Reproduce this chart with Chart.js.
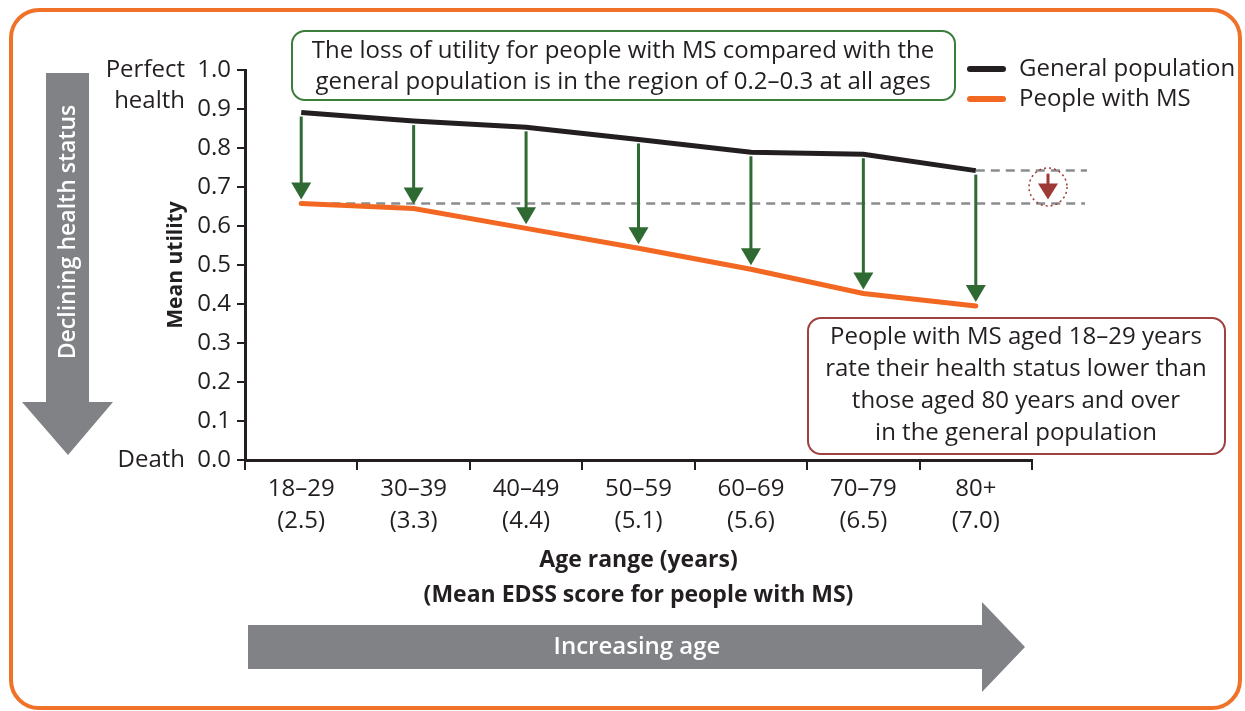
<!DOCTYPE html>
<html>
<head>
<meta charset="utf-8">
<script src="https://cdn.jsdelivr.net/npm/chart.js@4.4.1/dist/chart.umd.min.js"></script>
<style>
  body { margin: 0; background: #fff; }
  #wrap { width: 1245px; height: 711px; position: relative; }
</style>
</head>
<body>
<div id="wrap"><canvas id="utilityChart"></canvas></div>
<script>
const ageRanges = ["18–29", "30–39", "40–49", "50–59", "60–69", "70–79", "80+"];
const meanEdss = ["(2.5)", "(3.3)", "(4.4)", "(5.1)", "(5.6)", "(6.5)", "(7.0)"];
const generalPopulation = [0.891, 0.869, 0.853, 0.822, 0.789, 0.784, 0.742];
const peopleWithMS = [0.658, 0.645, 0.594, 0.543, 0.489, 0.427, 0.395];

const FONT = "'Open Sans', sans-serif";
const INK = "#231f20";
const ORANGE = "#f26722";
const GREEN = "#2f6a33";
const RED = "#9e3a36";
const GREY = "#808285";

function roundPath(ctx, x, y, w, h, r) {
  ctx.beginPath();
  ctx.moveTo(x + r, y);
  ctx.lineTo(x + w - r, y);
  ctx.arcTo(x + w, y, x + w, y + r, r);
  ctx.lineTo(x + w, y + h - r);
  ctx.arcTo(x + w, y + h, x + w - r, y + h, r);
  ctx.lineTo(x + r, y + h);
  ctx.arcTo(x, y + h, x, y + h - r, r);
  ctx.lineTo(x, y + r);
  ctx.arcTo(x, y, x + r, y, r);
  ctx.closePath();
}

function textLines(ctx, lines, cx, y0, step) {
  lines.forEach((t, i) => ctx.fillText(t, cx, y0 + i * step));
}

function downArrow(ctx, x, top, tip, color, headW, headH, shaftW) {
  ctx.strokeStyle = color;
  ctx.fillStyle = color;
  ctx.lineWidth = shaftW;
  ctx.beginPath();
  ctx.moveTo(x, top);
  ctx.lineTo(x, tip - headH + 2);
  ctx.stroke();
  ctx.beginPath();
  ctx.moveTo(x - headW / 2, tip - headH);
  ctx.lineTo(x + headW / 2, tip - headH);
  ctx.lineTo(x, tip);
  ctx.closePath();
  ctx.fill();
}

const extras = {
  id: "extras",
  beforeDraw(chart) {
    const ctx = chart.ctx;
    ctx.save();
    ctx.fillStyle = "#fff";
    ctx.fillRect(0, 0, chart.width, chart.height);
    ctx.restore();
  },
  beforeDatasetsDraw(chart) {
    const { ctx, chartArea: area, scales: { x, y } } = chart;
    const last = generalPopulation.length - 1;
    const upper = y.getPixelForValue(generalPopulation[last]);
    const lower = y.getPixelForValue(peopleWithMS[0]);
    ctx.save();
    ctx.strokeStyle = "#8a8c8e";
    ctx.lineWidth = 2.5;
    ctx.setLineDash([9, 6]);
    ctx.beginPath();
    ctx.moveTo(x.getPixelForValue(last), upper);
    ctx.lineTo(area.right + 55, upper);
    ctx.moveTo(x.getPixelForValue(0), lower);
    ctx.lineTo(area.right + 53, lower);
    ctx.stroke();
    ctx.restore();
  },
  afterDatasetsDraw(chart) {
    const { ctx, chartArea: area, scales: { x, y } } = chart;
    ctx.save();
    // loss of utility arrows
    generalPopulation.forEach((g, i) => {
      const px = x.getPixelForValue(i);
      downArrow(ctx, px, y.getPixelForValue(g) + 4, y.getPixelForValue(peopleWithMS[i]) - 4, GREEN, 20, 17, 3);
    });
    // 80+ general vs 18-29 MS marker
    const last = generalPopulation.length - 1;
    const upper = y.getPixelForValue(generalPopulation[last]);
    const lower = y.getPixelForValue(peopleWithMS[0]);
    const cx = area.right + 16, cy = (upper + lower) / 2;
    ctx.strokeStyle = RED;
    ctx.lineWidth = 1.5;
    ctx.setLineDash([2, 3]);
    ctx.beginPath();
    ctx.arc(cx, cy, 19, 0, Math.PI * 2);
    ctx.stroke();
    ctx.setLineDash([]);
    downArrow(ctx, cx, upper + 3, lower - 4, RED, 20, 16, 3);
    ctx.restore();
  },
  afterDraw(chart) {
    const { ctx, scales: { y } } = chart;
    ctx.save();

    // end labels on the y axis
    ctx.fillStyle = INK;
    ctx.font = "24px " + FONT;
    ctx.textAlign = "right";
    ctx.textBaseline = "middle";
    const yTop = y.getPixelForValue(1);
    ctx.fillText("Perfect", 185, yTop);
    ctx.fillText("health", 185, yTop + 31);
    ctx.fillText("Death", 185, y.getPixelForValue(0));

    // legend
    const series = chart.data.datasets;
    ctx.textAlign = "left";
    ctx.lineCap = "round";
    series.forEach((ds, i) => {
      const ly = 69 + i * 30;
      ctx.strokeStyle = ds.borderColor;
      ctx.lineWidth = 6;
      ctx.beginPath();
      ctx.moveTo(970, ly);
      ctx.lineTo(1003, ly);
      ctx.stroke();
      ctx.fillStyle = INK;
      ctx.fillText(ds.label, 1019, ly);
    });

    // green note
    ctx.lineWidth = 2;
    ctx.strokeStyle = "#3b7d3b";
    ctx.fillStyle = "#fff";
    roundPath(ctx, 292, 31, 663, 69, 13);
    ctx.fill();
    ctx.stroke();
    ctx.fillStyle = INK;
    ctx.textAlign = "center";
    textLines(ctx, [
      "The loss of utility for people with MS compared with the",
      "general population is in the region of 0.2–0.3 at all ages"
    ], 623, 51, 31);

    // red note
    ctx.strokeStyle = "#a0403f";
    ctx.fillStyle = "#fff";
    roundPath(ctx, 808, 318, 417, 136, 13);
    ctx.fill();
    ctx.stroke();
    ctx.fillStyle = INK;
    textLines(ctx, [
      "People with MS aged 18–29 years",
      "rate their health status lower than",
      "those aged 80 years and over",
      "in the general population"
    ], 1016, 337, 32.2);

    // big grey arrows
    ctx.fillStyle = GREY;
    ctx.beginPath();
    ctx.moveTo(46, 73);
    ctx.lineTo(89, 73);
    ctx.lineTo(89, 402);
    ctx.lineTo(113, 402);
    ctx.lineTo(68, 455);
    ctx.lineTo(22, 402);
    ctx.lineTo(46, 402);
    ctx.closePath();
    ctx.fill();
    ctx.beginPath();
    ctx.moveTo(248, 625);
    ctx.lineTo(982, 625);
    ctx.lineTo(982, 602);
    ctx.lineTo(1025, 647);
    ctx.lineTo(982, 692);
    ctx.lineTo(982, 669);
    ctx.lineTo(248, 669);
    ctx.closePath();
    ctx.fill();

    ctx.fillStyle = "#fff";
    ctx.font = "600 24px " + FONT;
    ctx.fillText("Increasing age", 637, 647);
    ctx.font = "600 23px " + FONT;
    ctx.translate(68, 232);
    ctx.rotate(-Math.PI / 2);
    ctx.fillText("Declining health status", 0, 0);
    ctx.setTransform(1, 0, 0, 1, 0, 0);
    ctx.restore();

    // orange frame
    ctx.save();
    ctx.strokeStyle = "#f07229";
    ctx.lineWidth = 4;
    roundPath(ctx, 11, 10, 1229, 698, 28);
    ctx.stroke();
    ctx.restore();
  }
};

new Chart(document.getElementById("utilityChart"), {
  type: "line",
  data: {
    labels: ageRanges.map((a, i) => [a, meanEdss[i]]),
    datasets: [
      {
        label: "General population",
        data: generalPopulation,
        borderColor: INK,
        borderWidth: 5,
        pointRadius: 0,
        tension: 0,
      },
      {
        label: "People with MS",
        data: peopleWithMS,
        borderColor: ORANGE,
        borderWidth: 5,
        borderCapStyle: "round",
        pointRadius: 0,
        tension: 0,
      },
    ],
  },
  options: {
    responsive: true,
    maintainAspectRatio: false,
    animation: false,
    devicePixelRatio: 1,
    layout: { padding: { left: 145, top: 70, right: 213, bottom: 0 } },
    plugins: { legend: { display: false }, tooltip: { enabled: false } },
    scales: {
      x: {
        offset: true,
        grid: { offset: true, drawOnChartArea: false, color: INK, lineWidth: 2, tickLength: 10 },
        border: { color: INK, width: 3 },
        ticks: { color: INK, padding: 4, font: { family: FONT, size: 24, lineHeight: 1.3 } },
        title: {
          display: true,
          text: ["Age range (years)", "(Mean EDSS score for people with MS)"],
          color: INK,
          font: { family: FONT, size: 23, weight: "bold", lineHeight: 1.48 },
          padding: { top: 0, bottom: 99 },
        },
        afterFit(scale) { scale.height = 251; },
      },
      y: {
        min: 0,
        max: 1,
        grid: { drawOnChartArea: false, color: INK, lineWidth: 2, tickLength: 8 },
        border: { color: INK, width: 3 },
        ticks: {
          stepSize: 0.1,
          color: INK,
          padding: 6,
          font: { family: FONT, size: 24 },
          callback: (v) => v.toFixed(1),
        },
        title: {
          display: true,
          text: "Mean utility",
          color: INK,
          font: { family: FONT, size: 21, weight: "bold", lineHeight: 1.2 },
          padding: { top: 18, bottom: 0 },
        },
        afterFit(scale) { scale.width = 100; },
      },
    },
  },
  plugins: [extras],
});
</script>
</body>
</html>
